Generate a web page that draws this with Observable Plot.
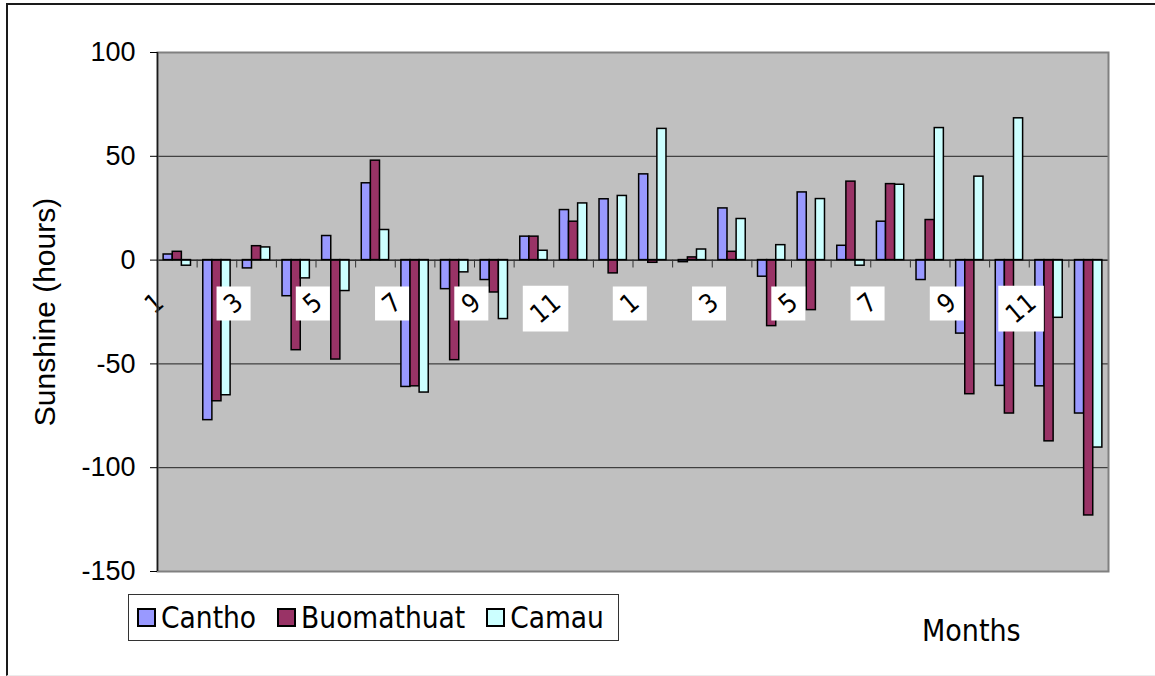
<!DOCTYPE html>
<html>
<head>
<meta charset="utf-8">
<script src="https://cdn.jsdelivr.net/npm/d3@7"></script>
<script src="https://cdn.jsdelivr.net/npm/@observablehq/plot@0.6"></script>
<style>
  html, body { margin: 0; padding: 0; background: #fff; overflow: hidden; }
  #page { position: relative; width: 1155px; height: 676px; overflow: hidden; }
  #border { position: absolute; left: 6px; top: 3px; width: 1200px; height: 673px; box-sizing: border-box;
            border-left: 2px solid #1a1a1a; border-top: 2px solid #1a1a1a; border-bottom: 1px solid #ececec; }
  #chart { position: absolute; left: 0; top: 0; }
  #legend { position: absolute; left: 128px; top: 594px; width: 491px; height: 47px; box-sizing: border-box;
            border: 1px solid #333; background: #fff; display: flex; align-items: center; padding-left: 8px;
            font-family: "DejaVu Sans Condensed", "DejaVu Sans", sans-serif; font-size: 29.5px; color: #000; }
  #legend .item { display: flex; align-items: center; margin-right: 21px; }
  #legend .swatch { width: 19px; height: 19px; box-sizing: border-box; border: 2px solid #000; margin-right: 5px; }
  #xtitle { position: absolute; left: 922px; top: 616px; font-family: "DejaVu Sans Condensed", "DejaVu Sans", sans-serif;
            font-size: 30px; color: #000; line-height: 1; }
</style>
</head>
<body>
<div id="page">
  <div id="border"></div>
  <div id="chart"></div>
  <div id="legend"></div>
  <div id="xtitle">Months</div>
</div>
<script>
// Monthly sunshine anomalies (hours) over two consecutive years
const months = [1, 2, 3, 4, 5, 6, 7, 8, 9, 10, 11, 12, 1, 2, 3, 4, 5, 6, 7, 8, 9, 10, 11, 12];
const seriesNames = ["Cantho", "Buomathuat", "Camau"];
const seriesColors = ["#9999ff", "#993366", "#ccffff"];
const cantho = [2.7, -77.1, -4.0, -17.4, 11.6, 37.0, -61.1, -14.0, -9.6, 11.3, 24.1, 29.3,
                41.3, -1.0, 24.9, -8.0, 32.6, 6.9, 18.5, -9.6, -35.4, -60.6, -60.8, -73.9];
const buomathuat = [4.0, -68.0, 6.7, -43.4, -47.9, 47.9, -60.8, -48.2, -15.6, 11.3, 18.5, -6.4,
                    -1.3, 1.3, 4.0, -31.8, -24.1, 37.8, 36.6, 19.3, -64.6, -73.9, -87.3, -123.0];
const camau = [-2.7, -65.1, 6.1, -8.8, -14.9, 14.5, -63.8, -5.9, -28.4, 4.5, 27.3, 30.9,
               63.2, 5.1, 19.8, 7.2, 29.4, -2.7, 36.3, 63.6, 40.2, 68.3, -27.8, -90.3];
const yTicks = [100, 50, 0, -50, -100, -150];
const gridValues = [100, 50, -50, -100];

// Long-format table: one row per bar
const seriesValues = [cantho, buomathuat, camau];
const bars = seriesNames.flatMap((name, s) =>
  seriesValues[s].map((value, i) => ({i, s, name, value})));

// Each month occupies one unit on x; the three bars sit side by side in the middle of it
const groupStart = 0.155, barWidth = 0.23;
const x1 = d => d.i + groupStart + d.s * barWidth;
const x2 = d => d.i + groupStart + (d.s + 1) * barWidth;

// Category labels: every other month, drawn tilted in white boxes just below the zero line
const slots = months.map((m, i) => i);
const labelled = slots.filter(i => months[i] % 2 === 1);
const shortLabels = labelled.filter(i => String(months[i]).length === 1);
const longLabels = labelled.filter(i => String(months[i]).length > 1);
const slotCenter = i => i + 0.5;
const labelFont = "DejaVu Sans Condensed, DejaVu Sans, sans-serif";

const chart = Plot.plot({
  width: 1155,
  height: 585,
  marginTop: 52,
  marginLeft: 157,
  marginRight: 47,
  marginBottom: 14,
  style: {fontFamily: "Liberation Sans, Arial, sans-serif", fontSize: "27px", color: "#000", background: "transparent"},
  x: {domain: [0, months.length], axis: null},
  y: {domain: [-150, 100], axis: null},
  color: {domain: seriesNames, range: seriesColors},
  marks: [
    Plot.frame({fill: "#c0c0c0"}),
    Plot.ruleY(gridValues, {stroke: "#222", strokeWidth: 1}),
    Plot.rectY(bars, {x1, x2, y1: 0, y2: "value", fill: "name", stroke: "#000", strokeWidth: 1.5}),
    Plot.ruleY([0], {stroke: "#000", strokeWidth: 1.3}),
    // small tick marks between months, hanging below the zero line
    Plot.ruleX(d3.range(1, months.length), {y1: 0, y2: -3.8, stroke: "#333", strokeWidth: 1}),
    // white label boxes (the first slot's label sits at the axis edge without one)
    Plot.dot(shortLabels.filter(i => i > 0), {x: slotCenter, y: 0, symbol: "square", r: 19.2, fill: "#fff", dx: -23, dy: 43.5}),
    Plot.dot(longLabels, {x: slotCenter, y: 0, symbol: "square", r: 25.7, fill: "#fff", dx: -28, dy: 48.5}),
    Plot.text(shortLabels, {x: slotCenter, y: 0, text: i => String(months[i]), rotate: -40, dx: -23, dy: 43.5,
      fontSize: 26, fontFamily: labelFont, fill: "#000"}),
    Plot.text(longLabels, {x: slotCenter, y: 0, text: i => String(months[i]), rotate: -40, dx: -28, dy: 48.5,
      fontSize: 26, fontFamily: labelFont, fill: "#000"}),
    Plot.frame({stroke: "#808080", strokeWidth: 2}),
    Plot.ruleX([0], {stroke: "#1a1a1a", strokeWidth: 1.5}),
    Plot.axisY({ticks: yTicks, tickSize: 7, tickPadding: 15, tickFormat: d => String(d), label: null}),
    Plot.text(["Sunshine (hours)"], {frameAnchor: "left", textAnchor: "middle", rotate: -90, dx: -112, fontSize: 30, fill: "#000"})
  ]
});
document.getElementById("chart").appendChild(chart);

// Legend
const legend = d3.select("#legend");
seriesNames.forEach((name, s) => {
  const item = legend.append("div").attr("class", "item");
  item.append("div").attr("class", "swatch").style("background", seriesColors[s]);
  item.append("span").text(name);
});
</script>
</body>
</html>
